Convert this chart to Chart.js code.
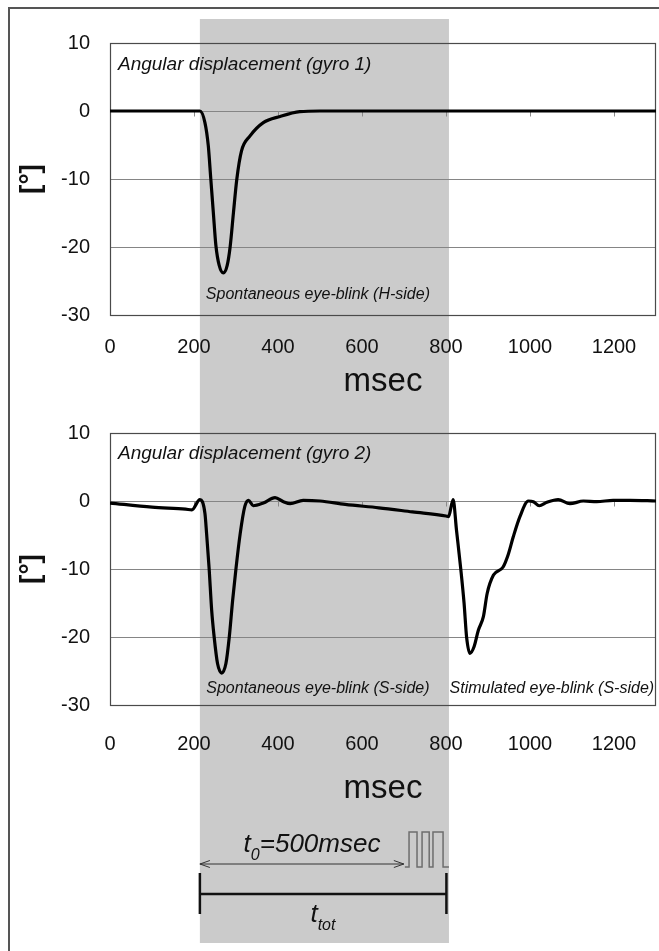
<!DOCTYPE html>
<html>
<head>
<meta charset="utf-8">
<script src="https://cdn.jsdelivr.net/npm/chart.js@4.4.0/dist/chart.umd.min.js"></script>
<style>
  body { margin: 0; background: #fff; }
  #figure { position: relative; width: 659px; height: 951px; overflow: hidden; }
  #frame { position: absolute; left: 8px; top: 7px; width: 700px; height: 1000px; border-left: 2px solid #555; border-top: 2px solid #555; }
  .panel { position: absolute; left: 0; }
</style>
</head>
<body>
<div id="figure">
  <div id="frame"></div>
  <canvas id="gyro1" class="panel" style="top:0" width="659" height="410"></canvas>
  <canvas id="gyro2" class="panel" style="top:410px" width="659" height="541"></canvas>
</div>
<script>
const FONT = "'Liberation Sans', Arial, sans-serif";

// axes
const msecTicks = [0, 200, 400, 600, 800, 1000, 1200];
const degTicks = [10, 0, -10, -20, -30];

// gyro 1 (H-side), spontaneous blink only
const gyro1Time = [0, 100, 200, 214, 226, 234, 240, 246, 252, 260, 270, 279, 286, 294, 302, 313, 333, 365, 405, 452, 500, 600, 700, 800, 900, 1000, 1100, 1200, 1300];
const gyro1Angle = [0, 0, 0, 0, -1.7, -5.1, -10, -14.9, -19.7, -22.7, -23.8, -22.7, -20, -14.9, -10, -5.9, -3.7, -1.7, -0.8, -0.1, 0, 0, 0, 0, 0, 0, 0, 0, 0];

// gyro 2 (S-side), spontaneous + stimulated blink
const gyro2Time = [0, 100, 180, 195, 214, 226, 230, 236, 242, 248, 256, 266, 276, 284, 292, 300, 310, 321, 330, 341, 365, 393, 413, 429, 460, 500, 560, 640, 720, 800, 806, 817, 825, 835, 843, 849, 857, 867, 877, 889, 898, 913, 936, 948, 960, 976, 996, 1008, 1022, 1040, 1067, 1095, 1127, 1159, 1198, 1238, 1300];
const gyro2Angle = [-0.3, -0.9, -1.2, -1.3, 0.2, -1.8, -4.8, -9.9, -16, -20, -23.9, -25.3, -23.9, -20, -14.6, -9.9, -4.8, -0.8, 0.1, -0.7, -0.3, 0.5, -0.1, -0.4, 0.1, 0, -0.5, -1.0, -1.6, -2.2, -2.3, 0.2, -4.3, -9.9, -15, -20, -22.4, -21.4, -19, -17, -13.6, -10.9, -9.7, -7.9, -5.3, -2.3, 0, -0.1, -0.7, -0.2, 0.2, -0.4, 0, -0.1, 0.1, 0.1, 0];

// timing window (msec)
const windowStart = 214;
const windowEnd = 807;
const trainStart = 702;
const stimPulses = [[712, 731], [743, 760], [769, 793]];
const totEnd = 801;

const toPoints = (t, a) => t.map((v, i) => ({ x: v, y: a[i] }));

// grey window behind everything
const windowBand = {
  id: 'windowBand',
  beforeDraw(chart, args, opts) {
    const { ctx, scales: { x } } = chart;
    const x0 = x.getPixelForValue(windowStart);
    const x1 = x.getPixelForValue(windowEnd);
    ctx.save();
    ctx.fillStyle = '#cbcbcb';
    ctx.fillRect(x0, opts.top, x1 - x0, opts.bottom - opts.top);
    ctx.restore();
  }
};

// plot box + small ticks on the zero line
const plotBox = {
  id: 'plotBox',
  beforeDatasetsDraw(chart) {
    const { ctx, chartArea: a, scales: { x, y } } = chart;
    ctx.save();
    ctx.strokeStyle = '#8a8a8a';
    ctx.lineWidth = 1;
    const y0 = Math.round(y.getPixelForValue(0)) + 0.5;
    msecTicks.slice(1).forEach(v => {
      const px = Math.round(x.getPixelForValue(v)) + 0.5;
      ctx.beginPath();
      ctx.moveTo(px, y0);
      ctx.lineTo(px, y0 + 5);
      ctx.stroke();
    });
    ctx.strokeStyle = '#4a4a4a';
    ctx.lineWidth = 1.2;
    ctx.strokeRect(a.left + 0.5, a.top + 0.5, a.right - a.left - 1, a.bottom - a.top);
    ctx.restore();
  }
};

// italic captions placed in data coordinates
const captions = {
  id: 'captions',
  afterDraw(chart, args, opts) {
    const { ctx, scales: { x, y } } = chart;
    ctx.save();
    ctx.fillStyle = '#111';
    ctx.textBaseline = 'middle';
    (opts.items || []).forEach(c => {
      ctx.font = 'italic ' + c.size + 'px ' + FONT;
      ctx.textAlign = c.align;
      ctx.fillText(c.text, x.getPixelForValue(c.x), y.getPixelForValue(c.y));
    });
    ctx.restore();
  }
};

// text with an italic subscript, centred on cx
function subText(ctx, parts, cx, baseline) {
  let w = 0;
  parts.forEach(p => { ctx.font = 'italic ' + p.size + 'px ' + FONT; p.w = ctx.measureText(p.text).width; w += p.w; });
  let px = cx - w / 2;
  ctx.textAlign = 'left';
  ctx.textBaseline = 'alphabetic';
  parts.forEach(p => {
    ctx.font = 'italic ' + p.size + 'px ' + FONT;
    ctx.fillText(p.text, px, baseline + (p.drop || 0));
    px += p.w;
  });
}

// stimulation timing sketch under the lower panel
const timing = {
  id: 'timing',
  afterDraw(chart) {
    const { ctx, scales: { x } } = chart;
    const xs = x.getPixelForValue(windowStart);
    const xt = x.getPixelForValue(trainStart);
    const yArrow = 454;
    ctx.save();

    // t0 arrow
    ctx.strokeStyle = '#333';
    ctx.lineWidth = 1;
    ctx.beginPath();
    ctx.moveTo(xs, yArrow); ctx.lineTo(xt - 1, yArrow);
    ctx.moveTo(xs + 10, yArrow - 3.5); ctx.lineTo(xs, yArrow); ctx.lineTo(xs + 10, yArrow + 3.5);
    ctx.moveTo(xt - 11, yArrow - 3.5); ctx.lineTo(xt - 1, yArrow); ctx.lineTo(xt - 11, yArrow + 3.5);
    ctx.stroke();

    // pulse train
    const lo = 457, hi = 422;
    ctx.strokeStyle = '#6e6e6e';
    ctx.lineWidth = 1.5;
    ctx.beginPath();
    ctx.moveTo(xt, lo);
    stimPulses.forEach(([a, b]) => {
      const pa = x.getPixelForValue(a), pb = x.getPixelForValue(b);
      ctx.lineTo(pa, lo); ctx.lineTo(pa, hi); ctx.lineTo(pb, hi); ctx.lineTo(pb, lo);
    });
    ctx.lineTo(x.getPixelForValue(windowEnd), lo);
    ctx.stroke();

    // t_tot bar
    const xe = x.getPixelForValue(totEnd);
    ctx.strokeStyle = '#111';
    ctx.lineWidth = 2.5;
    ctx.beginPath();
    ctx.moveTo(xs, 463); ctx.lineTo(xs, 504);
    ctx.moveTo(xe, 463); ctx.lineTo(xe, 504);
    ctx.moveTo(xs, 484); ctx.lineTo(xe, 484);
    ctx.stroke();

    ctx.fillStyle = '#111';
    subText(ctx, [
      { text: 't', size: 26 },
      { text: '0', size: 16, drop: 8 },
      { text: '=500msec', size: 26 }
    ], x.getPixelForValue(481), 442);
    subText(ctx, [
      { text: 't', size: 26 },
      { text: 'tot', size: 16, drop: 8 }
    ], x.getPixelForValue(507), 512);
    ctx.restore();
  }
};

function panel(id, time, angle, o) {
  return new Chart(document.getElementById(id), {
    type: 'line',
    data: {
      datasets: [{
        data: toPoints(time, angle),
        borderColor: '#000',
        borderWidth: 3.2,
        pointRadius: 0,
        cubicInterpolationMode: 'monotone',
        fill: false
      }]
    },
    options: {
      responsive: false,
      animation: false,
      devicePixelRatio: 1,
      layout: { padding: { top: o.padTop, right: 3, bottom: o.padBottom, left: 0 } },
      plugins: {
        legend: { display: false },
        tooltip: { enabled: false },
        windowBand: { top: o.bandTop, bottom: o.bandBottom },
        captions: { items: o.captions }
      },
      scales: {
        x: {
          type: 'linear', min: 0, max: 1300,
          afterBuildTicks: s => { s.ticks = msecTicks.map(v => ({ value: v })); },
          // fixed axis band, no extra room for the edge labels
          afterFit: s => { s.height = o.xHeight; s.paddingLeft = 0; s.paddingRight = 0; },
          grid: { display: false, drawTicks: false },
          border: { display: false },
          ticks: { color: '#111', font: { family: FONT, size: 20 }, padding: o.tickPad, maxRotation: 0, autoSkip: false, callback: v => String(v) },
          title: { display: true, text: 'msec', color: '#111', font: { family: FONT, size: 33 }, padding: { top: 0, bottom: o.titlePad } }
        },
        y: {
          min: -30, max: 10,
          afterBuildTicks: s => { s.ticks = degTicks.map(v => ({ value: v })); },
          afterFit: s => { s.width = 110; s.paddingTop = 0; s.paddingBottom = 0; },
          grid: { color: '#858585', lineWidth: 1, drawTicks: false },
          border: { display: false },
          ticks: { color: '#111', font: { family: FONT, size: 20 }, padding: 20, callback: v => String(v) },
          title: { display: true, text: '[°]', color: '#111', font: { family: FONT, size: 28, weight: 'bold' }, padding: { top: 14, bottom: 0 } }
        }
      }
    },
    plugins: o.extra ? [windowBand, plotBox, captions, o.extra] : [windowBand, plotBox, captions]
  });
}

panel('gyro1', gyro1Time, gyro1Angle, {
  padTop: 43, padBottom: 0, xHeight: 95, tickPad: 20, titlePad: 8,
  bandTop: 19, bandBottom: 410,
  captions: [
    { text: 'Angular displacement (gyro 1)', x: 19, y: 6.8, size: 19, align: 'left' },
    { text: 'Spontaneous eye-blink (H-side)', x: 495, y: -27, size: 16, align: 'center' }
  ]
});

panel('gyro2', gyro2Time, gyro2Angle, {
  padTop: 23, padBottom: 136, xHeight: 110, tickPad: 27, titlePad: 6,
  bandTop: 0, bandBottom: 533,
  captions: [
    { text: 'Angular displacement (gyro 2)', x: 19, y: 7, size: 19, align: 'left' },
    { text: 'Spontaneous eye-blink (S-side)', x: 495, y: -27.6, size: 16, align: 'center' },
    { text: 'Stimulated eye-blink (S-side)', x: 1052, y: -27.6, size: 16, align: 'center' }
  ],
  extra: timing
});
</script>
</body>
</html>
